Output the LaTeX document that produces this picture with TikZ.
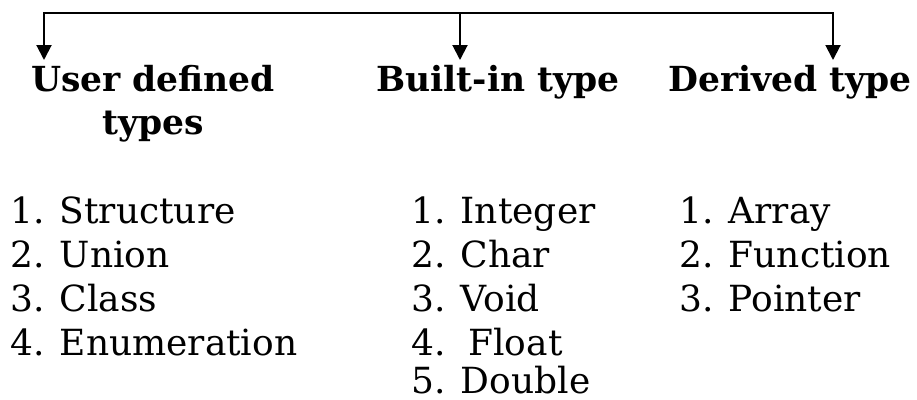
\documentclass[tikz,border=0pt]{standalone}
\usepackage{fontspec}
\setmainfont{DejaVu Serif}
\usetikzlibrary{arrows.meta}
\begin{document}
\begin{tikzpicture}[x=1pt,y=-1pt,
  conn/.style={line width=2pt,line cap=rect,line join=miter},
  arr/.style={conn,-{Triangle[length=15pt,width=15pt]}},
  head/.style={font=\fontsize{34.5}{43}\selectfont\bfseries,inner sep=0pt,align=center,anchor=base},
  item/.style={font=\fontsize{36}{44}\selectfont,inner sep=0pt,anchor=base west}]
\useasboundingbox (0,0) rectangle (917,399);
\coordinate (tl) at (44,13);
\coordinate (tm) at (460,13);
\coordinate (tr) at (833,13);
\coordinate (a1) at (44,60);
\coordinate (a2) at (460,60);
\coordinate (a3) at (833,60);
\draw[arr] (tl) -- (tr) -- (a3);
\draw[arr] (tl) -- (a1);
\draw[arr] (tm) -- (a2);
\node[head] (h1) at (153,134) {User defined\\types};
\node[head] (h2) at (498,91) {Built-in type};
\node[head] (h3) at (790,91) {Derived type};
\node[item] (u1) at (10,223) {1. Structure};
\node[item] (u2) at (10,267) {2. Union};
\node[item] (u3) at (10,311) {3. Class};
\node[item] (u4) at (10,355) {4. Enumeration};
\node[item] (b1) at (411,223) {1. Integer};
\node[item] (b2) at (411,267) {2. Char};
\node[item] (b3) at (411,311) {3. Void};
\node[item] (b4) at (411,355) {4.\ \ Float};
\node[item] (b5) at (411,393) {5. Double};
\node[item] (d1) at (679,223) {1. Array};
\node[item] (d2) at (679,267) {2. Function};
\node[item] (d3) at (679,311) {3. Pointer};
\end{tikzpicture}
\end{document}
